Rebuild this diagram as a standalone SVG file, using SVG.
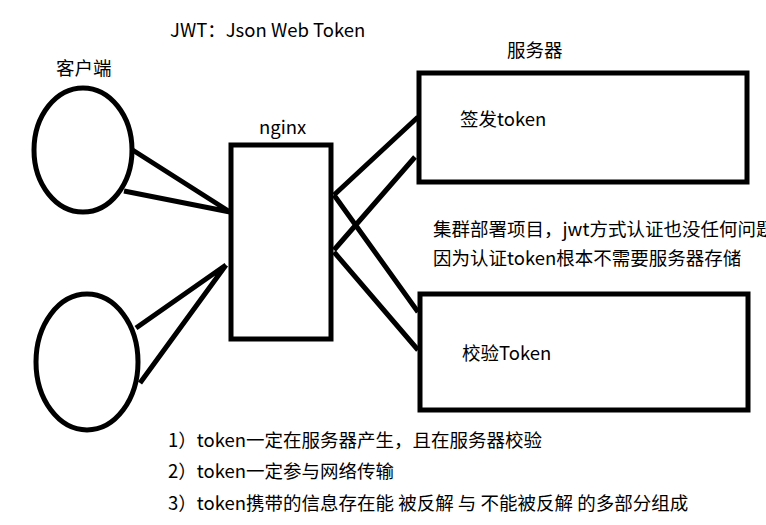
<svg xmlns="http://www.w3.org/2000/svg" width="766" height="525" viewBox="0 0 766 525">
<style>
.s{fill:none;stroke:#000;stroke-width:5}
.c{stroke:#000;stroke-width:5;fill:none}
text{font-family:"Microsoft YaHei","Noto Sans CJK SC","Noto Sans",sans-serif;font-size:18.5px;fill:#000}
</style>
<rect width="766" height="525" fill="#fff"/>
<text x="170" y="37">JWT：Json Web Token</text>
<g id="client1"><ellipse class="s" cx="83" cy="150" rx="49" ry="62"/><text x="56" y="75">客户端</text></g>
<g id="client2"><ellipse class="s" cx="87" cy="362" rx="51" ry="68"/></g>
<g id="nginx"><rect class="s" x="231" y="145" width="100" height="194"/><text x="259" y="134">nginx</text></g>
<g id="sign"><rect class="s" x="419" y="73" width="328" height="109"/><text x="507" y="57">服务器</text><text x="460" y="126">签发token</text></g>
<g id="verify"><rect class="s" x="420" y="294" width="328" height="116"/><text x="462" y="360">校验Token</text></g>
<g id="connectors">
<path class="c" d="M131 149L230 212M124 191L230 212M136 328L226 265M140 383L226 265M334 195L418 117M334 250L415 157M334 195L418 312M334 252L418 350"/>
</g>
<text x="433" y="236">集群部署项目，jwt方式认证也没任何问题</text>
<text x="433" y="265">因为认证token根本不需要服务器存储</text>
<text x="168" y="447">1）token一定在服务器产生，且在服务器校验</text>
<text x="168" y="478">2）token一定参与网络传输</text>
<text x="168" y="510">3）token携带的信息存在能 被反解 与 不能被反解 的多部分组成</text>
</svg>
